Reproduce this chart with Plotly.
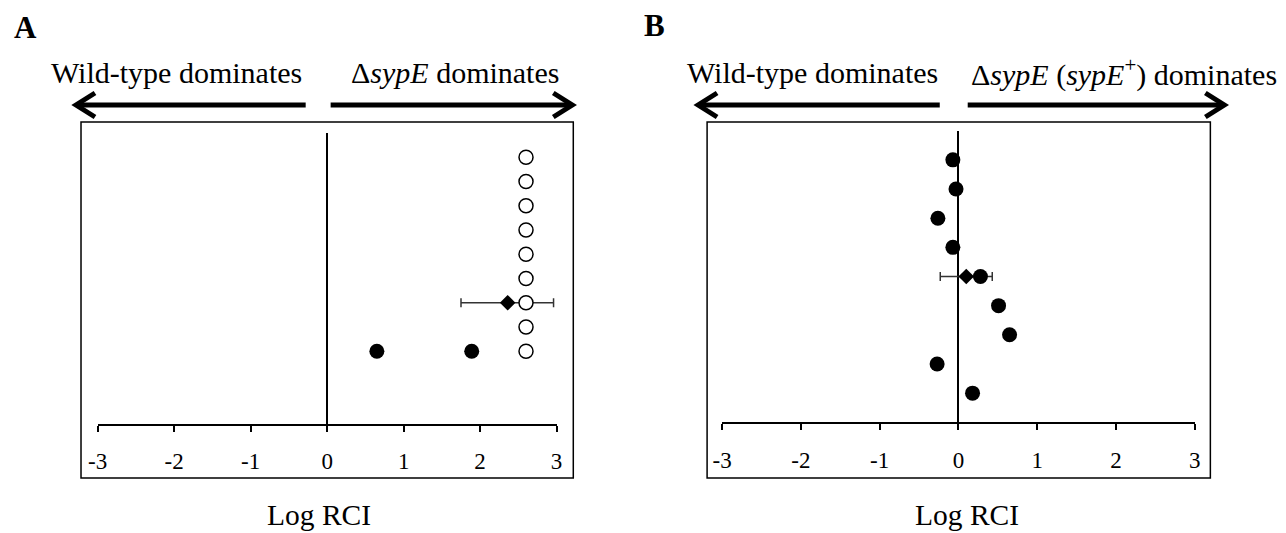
import plotly.graph_objects as go

W, H = 1286, 533
FONT = "Liberation Serif"

# ---------------- data ----------------
x_ticks = [-3, -2, -1, 0, 1, 2, 3]
x_tick_labels = ["-3", "-2", "-1", "0", "1", "2", "3"]

# Panel A (rows counted from top, 1-based)
a_open_rows = [1, 2, 3, 4, 5, 6, 7, 8, 9]
a_open_x = [2.60, 2.60, 2.60, 2.60, 2.60, 2.60, 2.60, 2.60, 2.60]
a_filled_rows = [9, 9]
a_filled_x = [0.65, 1.89]
a_mean_row = [7]
a_mean_x = [2.36]
a_err_minus = [0.61]
a_err_plus = [0.60]

# Panel B
b_rows = [1, 2, 3, 4, 5, 6, 7, 8, 9]
b_x = [-0.07, -0.03, -0.26, -0.07, 0.28, 0.51, 0.65, -0.27, 0.18]
b_mean_row = [5]
b_mean_x = [0.10]
b_err_minus = [0.33]
b_err_plus = [0.33]


# map target screen pixels to paper coordinates (compensating page offset)
def PX(px):
    return ((px - 16.9) / 0.989) / W


def PY(py):
    return 1 - (py - 8) / H


fig = go.Figure()

# Panel A traces
fig.add_trace(go.Scatter(
    x=a_mean_x, y=a_mean_row, mode="markers", xaxis="x", yaxis="y",
    marker=dict(symbol="diamond", size=12, color="black"),
    error_x=dict(type="data", symmetric=False, array=a_err_plus, arrayminus=a_err_minus,
                 color="#333333", thickness=1.5, width=4.5),
    showlegend=False))
fig.add_trace(go.Scatter(
    x=a_open_x, y=a_open_rows, mode="markers", xaxis="x", yaxis="y",
    marker=dict(symbol="circle", size=14, color="white", line=dict(color="black", width=1.5)),
    showlegend=False))
fig.add_trace(go.Scatter(
    x=a_filled_x, y=a_filled_rows, mode="markers", xaxis="x", yaxis="y",
    marker=dict(symbol="circle", size=15, color="black"),
    showlegend=False))

# Panel B traces
fig.add_trace(go.Scatter(
    x=b_mean_x, y=b_mean_row, mode="markers", xaxis="x2", yaxis="y2",
    marker=dict(symbol="diamond", size=12, color="black"),
    error_x=dict(type="data", symmetric=False, array=b_err_plus, arrayminus=b_err_minus,
                 color="#333333", thickness=1.5, width=4.5),
    showlegend=False))
fig.add_trace(go.Scatter(
    x=b_x, y=b_rows, mode="markers", xaxis="x2", yaxis="y2",
    marker=dict(symbol="circle", size=15, color="black"),
    showlegend=False))

xaxis_common = dict(
    range=[-3, 3], tickvals=x_ticks, ticktext=x_tick_labels,
    showline=True, linecolor="black", linewidth=1.5,
    ticks="outside", ticklen=6, tickwidth=1.5, tickcolor="black",
    tickfont=dict(family=FONT, size=23, color="black"),
    ticklabelstandoff=10,
    showgrid=False, zeroline=True, zerolinecolor="black", zerolinewidth=1.5,
    fixedrange=True,
)
yaxis_common = dict(showgrid=False, zeroline=False, showline=False,
                    showticklabels=False, ticks="", fixedrange=True)

fig.update_layout(
    width=W, height=H,
    margin=dict(l=0, r=0, t=0, b=0),
    paper_bgcolor="white", plot_bgcolor="rgba(0,0,0,0)",
    font=dict(family=FONT, color="black"),
    xaxis=dict(domain=[PX(96.7), PX(556.3)], anchor="y", **xaxis_common),
    yaxis=dict(domain=[PY(424), PY(133)], range=[12, 0], anchor="x", **yaxis_common),
    xaxis2=dict(domain=[PX(722), PX(1195.3)], anchor="y2", **xaxis_common),
    yaxis2=dict(domain=[PY(422.3), PY(130.7)], range=[10, 0], anchor="x2", **yaxis_common),
)

shapes = []
# panel frames
for x0, x1 in [(80, 573), (707, 1211)]:
    shapes.append(dict(type="rect", xref="paper", yref="paper",
                       x0=PX(x0), x1=PX(x1), y0=PY(478), y1=PY(122),
                       line=dict(color="black", width=1.5), fillcolor="rgba(0,0,0,0)", layer="below"))


def arrow(tail, tip, y):
    d = 1 if tip > tail else -1
    shapes.append(dict(type="line", xref="paper", yref="paper",
                       x0=PX(tail), x1=PX(tip - d * 3), y0=PY(y), y1=PY(y),
                       line=dict(color="black", width=5)))
    path = "M {} {} L {} {} L {} {}".format(
        PX(tip - d * 19), PY(y - 12), PX(tip), PY(y), PX(tip - d * 19), PY(y + 12))
    shapes.append(dict(type="path", xref="paper", yref="paper", path=path,
                       line=dict(color="black", width=5)))


arrow(305, 75, 105)
arrow(330, 572, 105)
arrow(940, 698, 105)
arrow(968, 1225, 105)
fig.update_layout(shapes=shapes)

annotations = []


def text(s, cx, cy, size=30, bold=False):
    annotations.append(dict(xref="paper", yref="paper", x=PX(cx), y=PY(cy),
                            text=("<b>%s</b>" % s) if bold else s, showarrow=False,
                            xanchor="center", yanchor="middle",
                            font=dict(family=FONT, size=size, color="black")))


text("A", 24, 27, size=31, bold=True)
text("B", 654, 25, size=31, bold=True)
text("Wild-type dominates", 176, 72)
text("Δ<i>sypE</i> dominates", 455, 72)
text("Wild-type dominates", 813, 72)
text("Δ<i>sypE</i> (<i>sypE</i><sup>+</sup>) dominates", 1125, 72)
text("Log RCI", 318, 515, size=29.5)
text("Log RCI", 967, 515, size=29.5)
fig.update_layout(annotations=annotations)

fig.write_html("out.html")
